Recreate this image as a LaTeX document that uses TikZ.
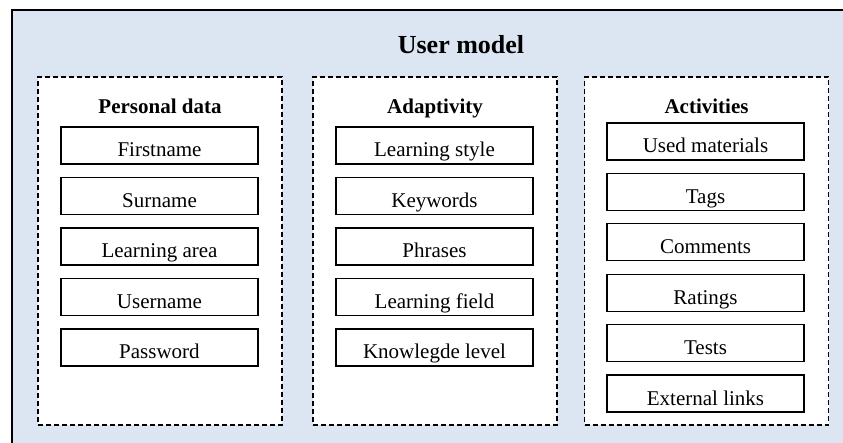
\documentclass[tikz,border=0pt]{standalone}
\usepackage{fontspec}
\setmainfont{Liberation Serif}
\usepackage{tikz}
\usetikzlibrary{positioning}
\definecolor{modelbg}{RGB}{220,230,242}

\tikzset{
  groupbox/.style={draw, dash pattern=on 5pt off 3pt, line width=1.3pt, fill=white,
    minimum width=244pt, minimum height=348pt, inner sep=0pt},
  itembox/.style={draw, line width=1.3pt, fill=white, minimum width=197pt, minimum height=37pt,
    text height=23pt, text depth=0pt, inner ysep=7pt, font=\fontsize{21}{24}\selectfont},
  grouphead/.style={font=\fontsize{21}{24}\selectfont\bfseries, anchor=base}
}

\begin{document}
\begin{tikzpicture}[x=1pt, y=-1pt]
\clip (0,0) rectangle (843,443);
% --- cornice esterna ---
\draw[line width=1.6pt, fill=modelbg] (12,10) rectangle (910,480);
\node[font=\fontsize{26}{30}\selectfont\bfseries, anchor=base] (title) at (461,54) {User model};

% --- gruppo 1: dati personali ---
\node[groupbox] (pd) at (160,251) {};
\node[grouphead] (pdhead) at (160,114) {Personal data};
\node[itembox] (pd1) at (159.5,145.5) {Firstname};
\node[itembox] (pd2) at (159.5,196) {Surname};
\node[itembox] (pd3) at (159.5,246.5) {Learning area};
\node[itembox] (pd4) at (159.5,297) {Username};
\node[itembox] (pd5) at (159.5,347.5) {Password};

% --- gruppo 2: adattivita' ---
\node[groupbox] (ad) at (435,251) {};
\node[grouphead] (adhead) at (435,114) {Adaptivity};
\node[itembox] (ad1) at (434.5,145.5) {Learning style};
\node[itembox] (ad2) at (434.5,196) {Keywords};
\node[itembox] (ad3) at (434.5,246.5) {Phrases};
\node[itembox] (ad4) at (434.5,297) {Learning field};
\node[itembox] (ad5) at (434.5,347.5) {Knowlegde level};

% --- gruppo 3: attivita' ---
\node[groupbox] (ac) at (706.5,251) {};
\node[grouphead] (achead) at (706.5,114) {Activities};
\node[itembox] (ac1) at (705.5,141.5) {Used materials};
\node[itembox] (ac2) at (705.5,191.9) {Tags};
\node[itembox] (ac3) at (705.5,242.3) {Comments};
\node[itembox] (ac4) at (705.5,292.7) {Ratings};
\node[itembox] (ac5) at (705.5,343.1) {Tests};
\node[itembox] (ac6) at (705.5,393.5) {External links};
\end{tikzpicture}
\end{document}
